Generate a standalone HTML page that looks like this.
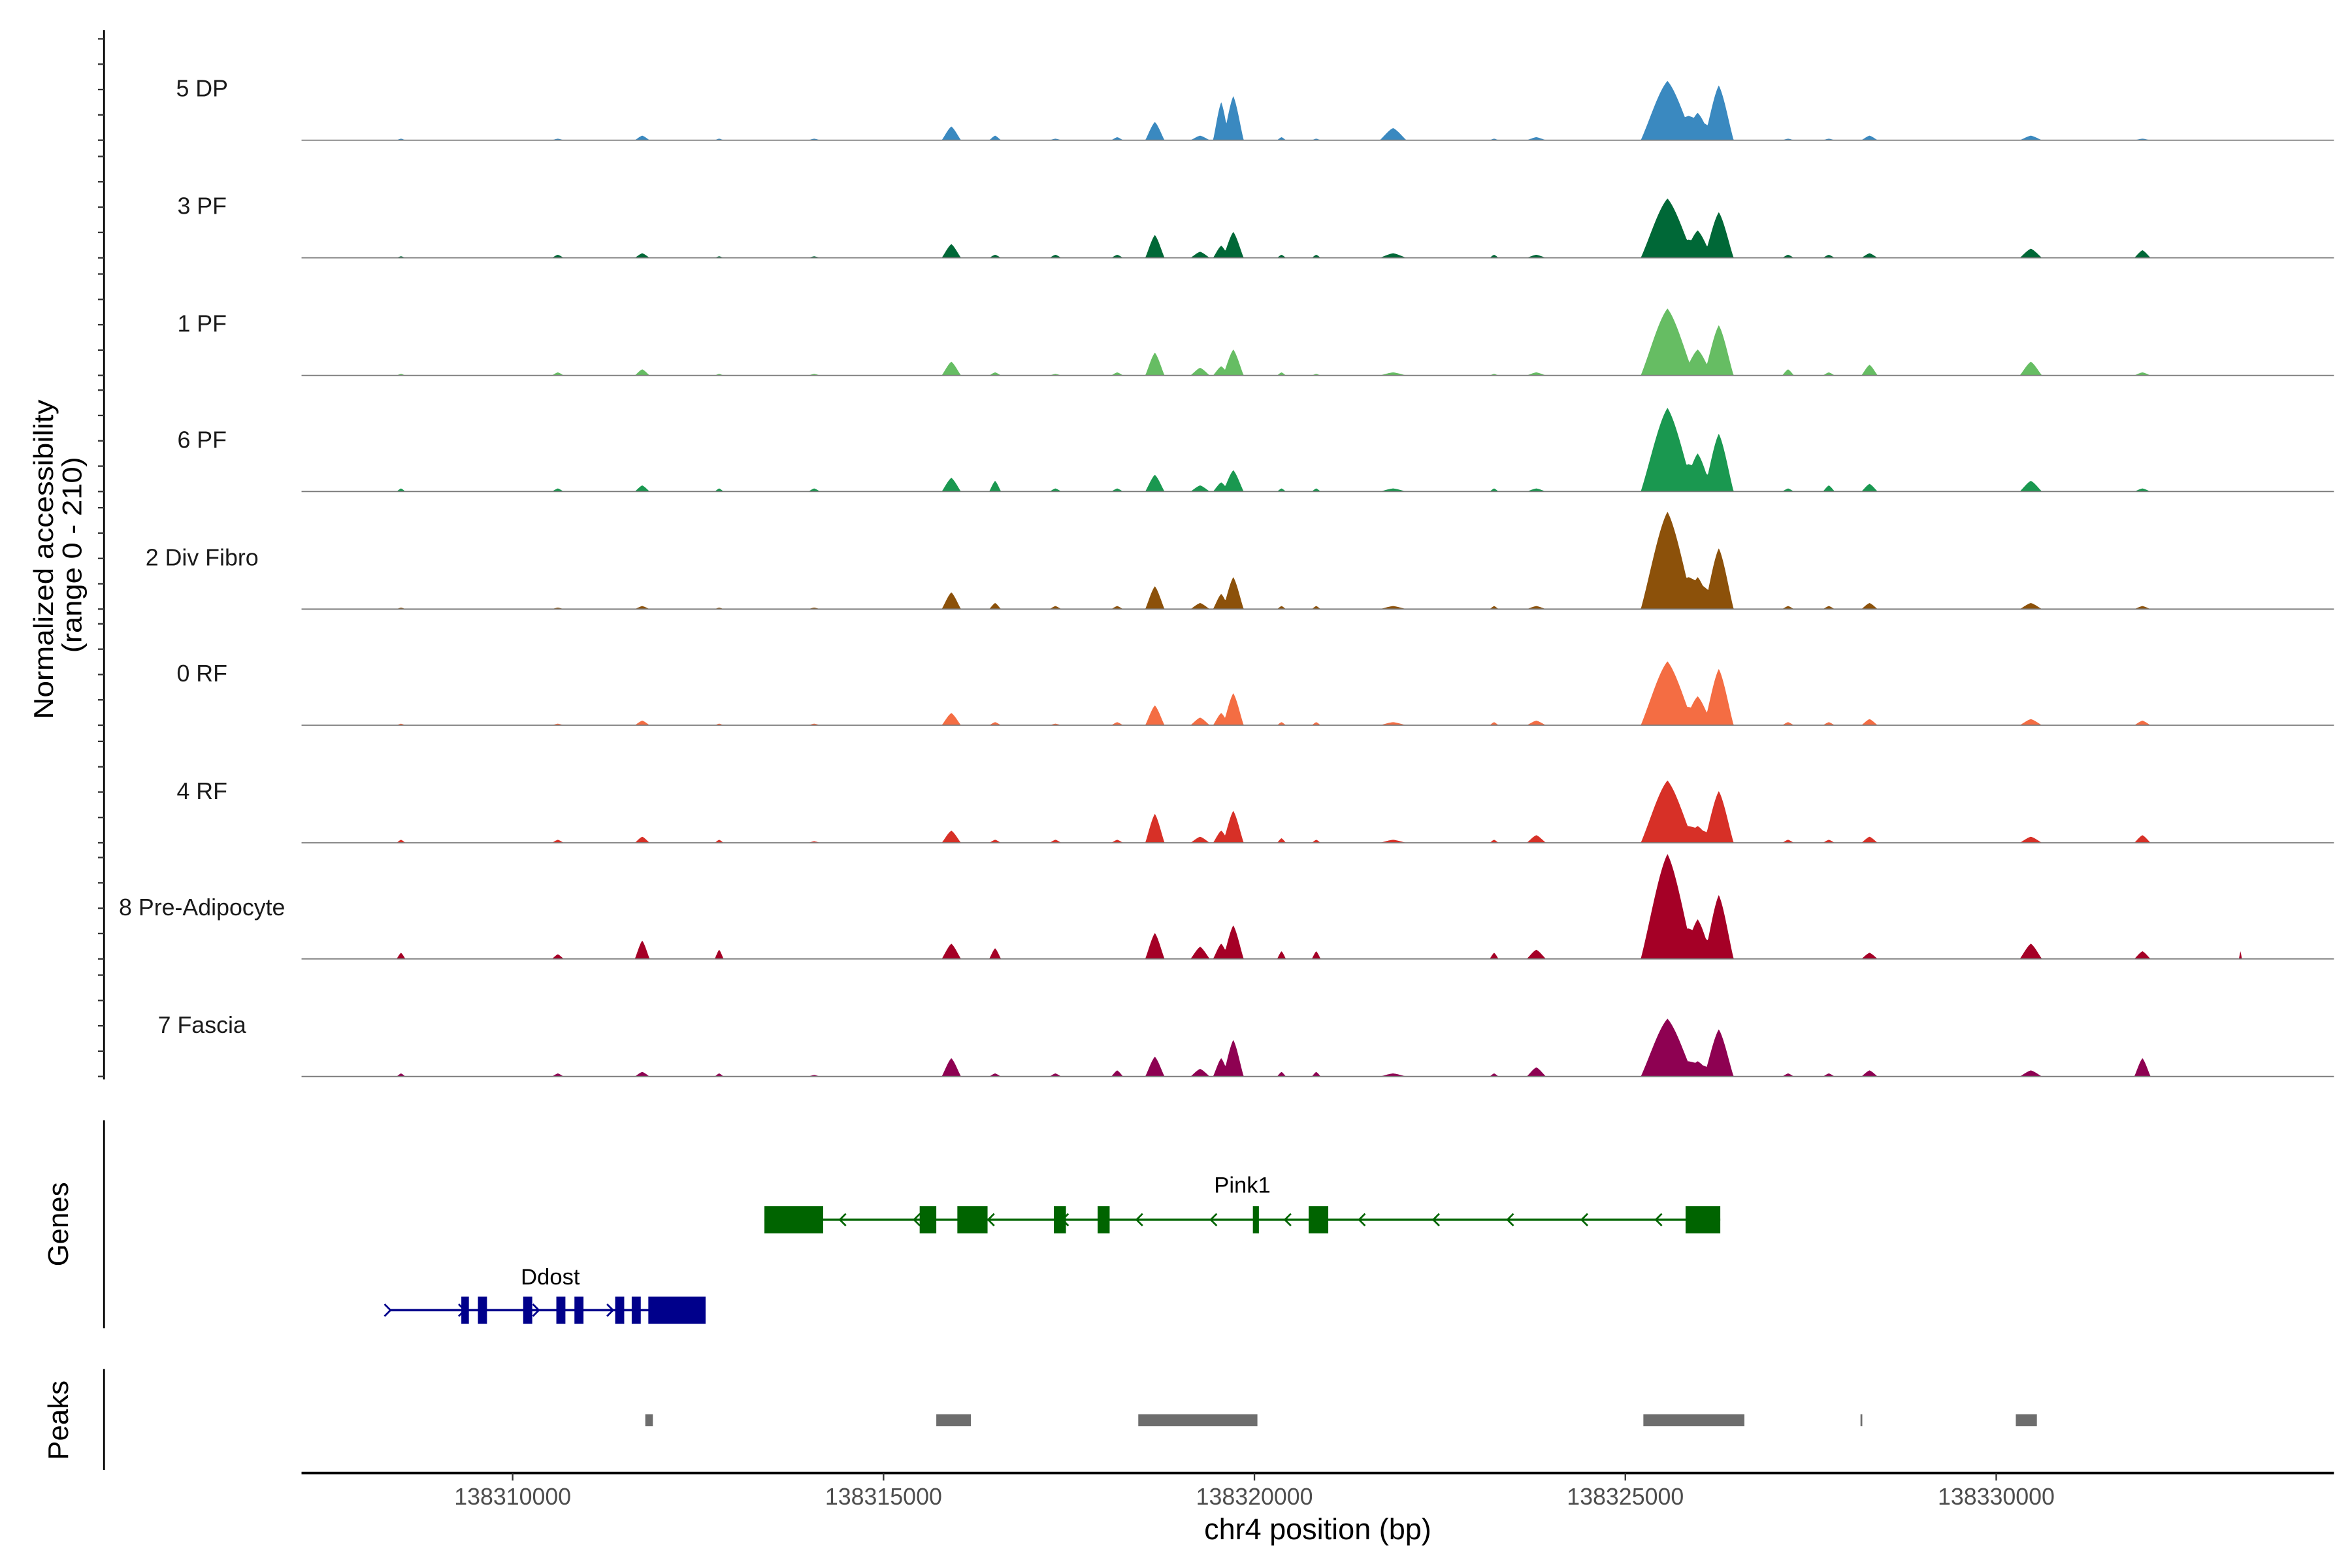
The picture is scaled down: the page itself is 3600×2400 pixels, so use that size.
<!DOCTYPE html>
<html><head><meta charset="utf-8"><style>
html,body{margin:0;padding:0;background:#fff;}
svg{display:block;font-family:"Liberation Sans",Arial,sans-serif;}
</style></head><body>
<svg id="chart" width="3600" height="2400" viewBox="0 0 1560 1040" xmlns="http://www.w3.org/2000/svg">
<rect width="1560" height="1040" fill="#fff"/>
<g id="tracks"></g>
<g id="yaxis">
<line x1="69" y1="20" x2="69" y2="716" stroke="#000" stroke-width="1.2"/>
</g>
<text transform="translate(35,371) rotate(-90)" text-anchor="middle" font-size="18" textLength="212" lengthAdjust="spacingAndGlyphs">Normalized accessibility</text>
<text transform="translate(54,368) rotate(-90)" text-anchor="middle" font-size="18" textLength="130" lengthAdjust="spacingAndGlyphs">(range 0 - 210)</text>
<g>
<line x1="69" y1="743" x2="69" y2="881" stroke="#000" stroke-width="1.2"/>
<text transform="translate(45,812) rotate(-90)" text-anchor="middle" font-size="19">Genes</text>
<g id="genes"></g>
</g>
<g>
<line x1="69" y1="908" x2="69" y2="975" stroke="#000" stroke-width="1.2"/>
<text transform="translate(45,942) rotate(-90)" text-anchor="middle" font-size="19">Peaks</text>
<g id="peaks"></g>
</g>
<g id="xaxis">
<line x1="200" y1="977" x2="1548" y2="977" stroke="#000" stroke-width="1.6"/>
</g>
<text x="874" y="1021" text-anchor="middle" font-size="19.5">chr4 position (bp)</text>
</svg>
<script>
const trackNames = ["5 DP","3 PF","1 PF","6 PF","2 Div Fibro","0 RF","4 RF","8 Pre-Adipocyte","7 Fascia"];
const trackColors = ["#3a89c0","#006837","#66bd63","#1a9850","#8c510a","#f46d43","#d73027","#a50026","#8e0152"];
const peakCenters = [138308495,138310609,138311747,138312784,138314065,138315914,138316504,138317317,138318150,138318658,138319268,138319552,138319715,138320365,138320833,138321869,138323231,138323800,138325568,138325853,138325975,138326260,138327194,138327743,138328292,138330467,138331971,138333292];
const peakHalfWidths = [60,80,100,60,80,130,80,80,80,130,130,110,140,60,60,180,60,130,360,560,200,200,80,80,110,150,110,20];
const cov5DP  = [3,3,9,3,3,27,9,3,6,36,9,75,87,6,3,24,3,6,117,48,54,108,3,3,9,9,3,0];
const cov3PF  = [3,6,9,3,3,27,6,6,6,45,12,24,51,6,6,9,6,6,117,36,54,90,6,6,9,18,15,0];
const cov1PF  = [3,6,12,3,3,27,6,3,6,45,15,18,51,6,3,6,3,6,132,24,51,99,12,6,21,27,6,0];
const cov6PF  = [6,6,12,6,6,27,21,6,6,33,12,18,42,6,6,6,6,6,165,54,75,114,6,12,15,21,6,0];
const covDiv  = [3,3,6,3,3,33,12,6,6,45,12,30,63,6,6,6,6,6,192,63,63,120,6,6,12,12,6,0];
const cov0RF  = [3,3,9,3,3,24,6,3,6,39,15,24,63,6,6,6,6,9,126,36,57,111,6,6,12,12,9,0];
const cov4RF  = [6,6,12,6,3,24,6,6,6,57,12,24,63,9,6,6,6,15,123,33,33,102,6,6,12,12,15,0];
const cov8PA  = [12,9,36,18,0,30,21,0,0,51,24,30,66,15,15,0,12,18,207,60,78,126,0,0,12,30,15,15];
const cov7F   = [6,6,9,6,3,36,6,6,12,39,15,36,72,9,9,6,6,18,114,30,30,93,6,6,12,12,36,0];
const trackValues = [cov5DP,cov3PF,cov1PF,cov6PF,covDiv,cov0RF,cov4RF,cov8PA,cov7F];
const xTicks = [138310000,138315000,138320000,138325000,138330000];
const geneNames = ["Pink1","Ddost"];
const pink1Exons = [[138313394,138314186],[138315487,138315711],[138315995,138316402],[138317296,138317459],[138317886,138318048],[138319979,138320060],[138320731,138320995],[138325812,138326280]];
const pink1Span = [138313394,138326280];
const ddostExons = [[138309308,138309410],[138309532,138309654],[138310142,138310264],[138310589,138310711],[138310833,138310955],[138311382,138311504],[138311605,138311727],[138311829,138312601]];
const ddostSpan = [138308333,138312601];
const peakRegions = [[138311788,138311890],[138315711,138316178],[138318434,138320040],[138325243,138326605],[138328170,138328191],[138330264,138330548]];

const NS="http://www.w3.org/2000/svg";
const X0=138307154, PX0=200, BPPX=20.325;
function xs(bp){return PX0+(bp-X0)/BPPX;}
const TRACK_H=70.6, YMAX=210;
function ys(v,base){return base - v/YMAX*TRACK_H;}
const baselines=[93,171,249,326,404,481,559,636,714];
function el(tag,attrs,parent){const e=document.createElementNS(NS,tag);for(const k in attrs)e.setAttribute(k,attrs[k]);parent.appendChild(e);return e;}

const tracksG=document.getElementById('tracks');
trackNames.forEach((name,t)=>{
  const base=baselines[t];
  const g=el('g',{},tracksG);
  
  
  const vals=trackValues[t];
  let d='M200,'+base;
  for(let x=200;x<=1548;x+=0.5){
    const bp=X0+(x-PX0)*BPPX;
    let v=0;
    for(let i=0;i<peakCenters.length;i++){
      const dd=Math.abs(bp-peakCenters[i]);
      if(dd<peakHalfWidths[i]){const r=dd/peakHalfWidths[i];const h=vals[i]*(1-r*r)*(1-0.5*r);if(h>v)v=h;}
    }
    d+=' L'+x+','+ys(v,base).toFixed(2);
  }
  d+=' L1548,'+base+' Z';
  const p=el('path',{d:d,fill:trackColors[t]},g);
  
  
  const bl=el('line',{x1:200,y1:base,x2:1548,y2:base,stroke:'#7a7a7a','stroke-width':0.8},g);
  
  
  const lab=el('text',{x:134,y:base-29,'text-anchor':'middle','font-size':15.5,fill:'#1a1a1a'},g);
  
  
  lab.textContent=name;
});
const yaxis=document.getElementById('yaxis');
baselines.forEach(b=>{[0,50,100,150,200].forEach(v=>{
  const tk=el('line',{x1:65,x2:69,y1:ys(v,b),y2:ys(v,b),stroke:'#333','stroke-width':1},yaxis);
  
  
});});

const genesG=document.getElementById('genes');
function drawGene(name,span,exons,y,color,dir,labelX,labelY){
  const g=el('g',{},genesG);
  
  
  el('line',{x1:xs(span[0]),x2:xs(span[1]),y1:y,y2:y,stroke:color,'stroke-width':1.5},g);
  const x1=xs(span[0]),x2=xs(span[1]);
  for(let x=x1+(dir<0?50:1);x<x2-5;x+=49.2){
    const pts=dir<0?(x+4)+','+(y-4)+' '+x+','+y+' '+(x+4)+','+(y+4):(x-4)+','+(y-4)+' '+x+','+y+' '+(x-4)+','+(y+4);
    el('polyline',{points:pts,fill:'none',stroke:color,'stroke-width':1.2},g);
  }
  exons.forEach(e=>{
    const r=el('rect',{x:xs(e[0]),y:y-9,width:Math.max(1.5,xs(e[1])-xs(e[0])),height:18,fill:color},g);
    
    
  });
  const t=el('text',{x:labelX,y:labelY,'text-anchor':'middle','font-size':15},g);
  
  
  t.textContent=name;
}
drawGene(geneNames[0],pink1Span,pink1Exons,809,'#006400',-1,824,791);
drawGene(geneNames[1],ddostSpan,ddostExons,869,'#00008b',1,365,852);

const peaksG=document.getElementById('peaks');
peakRegions.forEach(r=>{
  const rc=el('rect',{x:xs(r[0]),y:938,width:Math.max(1.2,xs(r[1])-xs(r[0])),height:8,fill:'#6d6d6d'},peaksG);
  
  
});

const xaxis=document.getElementById('xaxis');
xTicks.forEach(v=>{
  const x=xs(v);
  const tk=el('line',{x1:x,x2:x,y1:977,y2:982,stroke:'#333','stroke-width':1},xaxis);
  
  
  const t=el('text',{x:x,y:998,'text-anchor':'middle','font-size':15.5,fill:'#4d4d4d'},xaxis);
  
  
  t.textContent=String(v);
});
</script>
</body></html>
